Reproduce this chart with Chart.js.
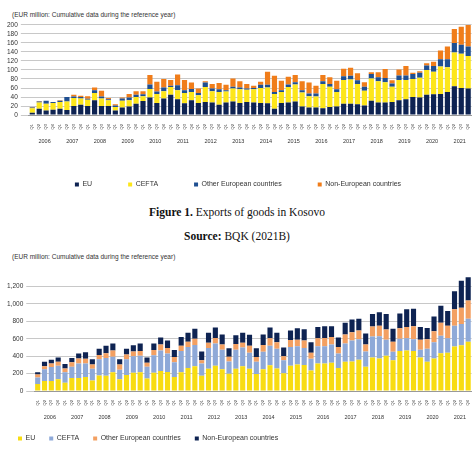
<!DOCTYPE html>
<html>
<head>
<meta charset="utf-8">
<script src="https://cdn.jsdelivr.net/npm/chart.js@4"></script>
<style>
  body { margin:0; width:474px; height:452px; background:#fff; position:relative; overflow:hidden; font-family:"Liberation Sans", Arial, sans-serif; }
  .note { position:absolute; left:12px; font-size:6.5px; color:#333; }
  .cap { position:absolute; left:0; width:474px; text-align:center; font-family:"Liberation Serif", serif; font-size:11.5px; color:#111; }
  .box { position:absolute; left:0; width:474px; }
</style>
</head>
<body>
<div class="note" style="top:11px">(EUR million: Cumulative data during the reference year)</div>
<div class="box" style="top:18px;height:180px"><canvas id="exports"></canvas></div>
<div class="cap" style="top:206px"><b>Figure 1.</b> Exports of goods in Kosovo</div>
<div class="cap" style="top:230px"><b>Source:</b> BQK (2021B)</div>
<div class="note" style="top:253px">(EUR million: Cumulative data during the reference year)</div>
<div class="box" style="top:270px;height:182px"><canvas id="imports"></canvas></div>
<script>
// categories
const years = ['2006','2007','2008','2009','2010','2011','2012','2013','2014','2015','2016','2017','2018','2019','2020','2021'];
const quarters = ['Q1','Q2','Q3','Q4'];
const labels = [];
years.forEach(y => quarters.forEach(q => labels.push(q + ' ' + y)));

// exports (figure 1)
const expEU = [5,14,10,12, 14,11,20,23, 20,33,20,20, 10,17,19,25, 31,39,27,37, 45,35,26,33, 27,29,28,23, 28,30,27,29, 28,27,26,14, 27,28,30,19, 17,17,15,18, 19,25,25,24, 21,32,28,28, 29,33,35,40, 39,45,46,47, 51,64,60,59];
const expCEFTA = [10,14,15,15, 15,19,18,14, 14,16,17,13, 8,15,14,15, 11,19,20,16, 17,20,23,18, 17,33,25,28, 24,29,30,27, 29,33,35,33, 24,34,38,31, 25,24,54,45, 32,53,54,45, 33,49,47,45, 34,45,43,40, 44,55,50,61, 55,75,76,72];
const expOther = [2,2,7,2, 3,10,3,3, 2,6,4,2, 3,5,6,5, 4,10,5,8, 3,11,6,7, 5,10,6,6, 3,4,4,3, 3,7,6,4, 4,6,5,5, 6,7,6,6, 6,8,8,8, 9,10,9,9, 7,10,10,11, 11,10,13,16, 18,21,20,21];
const expNonEU = [1,1,0,0, 1,0,4,3, 6,6,13,3, 3,2,8,8, 7,21,22,19, 13,24,23,14, 10,3,10,14, 12,18,14,10, 5,7,29,36, 21,17,16,20, 24,17,14,15, 19,17,18,16, 10,4,11,20, 7,13,21,3, 3,5,9,19, 28,31,40,48];

// imports (second chart)
const impEU = [80,115,115,135, 95,150,150,160, 120,180,175,215, 135,185,210,215, 145,210,230,220, 160,215,265,285, 175,255,290,250, 200,255,285,255, 195,250,295,260, 205,290,305,300, 235,315,315,325, 265,335,340,360, 280,385,375,405, 355,460,465,460, 385,335,375,435, 440,510,525,565];
const impCEFTA = [75,135,160,155, 120,130,165,155, 135,185,205,180, 110,180,190,190, 135,200,235,210, 170,245,240,245, 140,240,255,225, 140,220,215,185, 140,200,225,225, 150,215,210,195, 135,200,200,210, 165,210,240,235, 175,240,255,185, 95,140,140,135, 90,150,185,200, 165,240,245,265];
const impOther = [35,35,40,45, 45,50,60,55, 50,50,55,70, 60,55,55,55, 45,60,70,65, 60,60,60,70, 40,60,65,60, 55,65,55,80, 55,80,85,75, 45,80,75,85, 70,90,95,85, 75,105,95,100, 80,115,120,115, 115,120,130,150, 115,110,125,150, 145,190,185,210];
const impNonEU = [25,50,45,50, 50,50,55,75, 60,70,85,80, 60,65,70,85, 60,75,80,85, 80,100,105,115, 100,115,120,115, 95,100,115,125, 100,120,125,110, 100,110,130,130, 120,130,135,125, 110,135,145,135, 125,145,155,180, 150,170,205,200, 145,130,170,195, 170,205,310,265];

Chart.defaults.font.family = '"Liberation Sans", Arial, sans-serif';
Chart.defaults.color = '#333';

function build(id, series, max, step, fmt, legendPad) {
  new Chart(document.getElementById(id), {
    type: 'bar',
    data: {
      labels: labels,
      datasets: series.map(s => ({ label: s[0], data: s[1], backgroundColor: s[2], barPercentage: 0.75, categoryPercentage: 1 }))
    },
    options: {
      responsive: true,
      maintainAspectRatio: false,
      animation: false,
      layout: { padding: { left: 4, right: 2 } },
      plugins: {
        tooltip: { enabled: false },
        legend: {
          position: 'bottom',
          align: legendPad > 20 ? 'center' : 'start',
          labels: { boxWidth: 4, boxHeight: 4, padding: legendPad, font: { size: 7 } }
        }
      },
      scales: {
        x: {
          stacked: true,
          grid: { display: false },
          border: { color: '#999' },
          ticks: {
            autoSkip: false, maxRotation: 90, minRotation: 90, padding: 1,
            font: { size: 4 },
            callback: function(v, i) { return labels[i].slice(0, 2); }
          }
        },
        x2: {
          type: 'category',
          labels: labels,
          position: 'bottom',
          grid: { display: false },
          border: { display: false },
          ticks: {
            autoSkip: false, maxRotation: 0, minRotation: 0, padding: 0,
            font: { size: 5.5 },
            callback: function(v, i) { return i % 4 === 1 ? '       ' + labels[i].slice(3) : ''; }
          }
        },
        y: {
          stacked: true,
          min: 0, max: max,
          border: { display: false },
          grid: { color: c => (c.tick && c.tick.value % step === 0) ? '#c8c8c8' : 'rgba(0,0,0,0)' },
          ticks: {
            stepSize: step, autoSkip: false, font: { size: 6.5 },
            callback: v => v % step === 0 ? fmt(v) : ''
          }
        }
      }
    }
  });
}

build('exports', [
  ['EU', expEU, '#0e2352'],
  ['CEFTA', expCEFTA, '#fde61a'],
  ['Other European countries', expOther, '#1f4f91'],
  ['Non-European countries', expNonEU, '#f07d1a']
], 200, 20, v => String(v), 36);

build('imports', [
  ['EU', impEU, '#f8dc12'],
  ['CEFTA', impCEFTA, '#8ea9d8'],
  ['Other European countries', impOther, '#f3a062'],
  ['Non-European countries', impNonEU, '#0e2352']
], 1310, 200, v => v.toLocaleString('en-US'), 14);
</script>
</body>
</html>
